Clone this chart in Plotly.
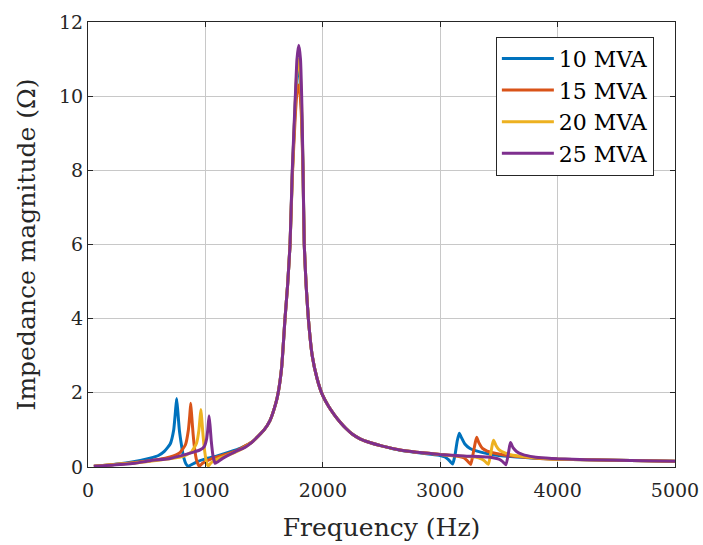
import plotly.graph_objects as go

# ---------------- data ----------------
names = ["10 MVA", "15 MVA", "20 MVA", "25 MVA"]
colors = ["#0072BD", "#D95319", "#EDB120", "#7E2F8E"]

f_10 = [50, 200, 350, 528, 600, 650, 700, 730, 745, 755, 765, 778, 798, 812, 835, 855,
        880, 926, 1000, 1100, 1200, 1300, 1400, 1500, 1550, 1600, 1620, 1650, 1678, 1700,
        1721, 1740, 1766, 1780, 1792, 1805, 1820, 1832, 1842, 1858, 1877, 1910, 1950, 1996,
        2050, 2100, 2150, 2200, 2250, 2317, 2400, 2500, 2658, 2800, 2900, 3000, 3040, 3070, 3090, 3106, 3125, 3145,
        3163, 3180, 3210, 3254, 3300, 3400, 3500, 3600, 3700, 3850, 4000, 4500, 5000]
z_10 = [0.02, 0.06, 0.12, 0.24, 0.31, 0.42, 0.62, 1.00, 1.50, 1.85, 1.50, 1.00, 0.55, 0.30, 0.08, 0.02,
        0.06, 0.14, 0.22, 0.30, 0.40, 0.51, 0.68, 1.00, 1.25, 1.72, 2.00, 2.70, 4.00, 4.90,
        6.00, 7.90, 9.80, 10.60, 10.90, 10.50, 9.50, 7.90, 6.00, 4.90, 4.00, 3.00, 2.40, 1.95,
        1.63, 1.40, 1.20, 1.03, 0.89, 0.76, 0.66, 0.57, 0.45, 0.39, 0.35, 0.31, 0.27, 0.20, 0.13, 0.08, 0.30, 0.70,
        0.91, 0.80, 0.62, 0.50, 0.44, 0.36, 0.31, 0.28, 0.26, 0.23, 0.21, 0.18, 0.155]

f_15 = [50, 200, 400, 600, 700, 780, 830, 855, 867, 875, 884, 895, 910, 925, 948, 975,
        1050, 1150, 1250, 1300, 1400, 1500, 1550, 1600, 1620, 1650, 1678, 1700,
        1721, 1740, 1766, 1780, 1792, 1805, 1820, 1832, 1842, 1858, 1877, 1910, 1950, 1996,
        2050, 2100, 2150, 2200, 2250, 2317, 2400, 2500, 2658, 2800, 3000, 3150, 3200, 3230, 3260, 3280, 3300, 3311,
        3330, 3360, 3400, 3500, 3600, 3700, 3850, 4000, 4500, 5000]
z_15 = [0.02, 0.06, 0.12, 0.20, 0.27, 0.38, 0.60, 1.00, 1.40, 1.72, 1.35, 0.90, 0.45, 0.18, 0.02, 0.10,
        0.22, 0.32, 0.42, 0.50, 0.68, 1.00, 1.25, 1.72, 2.00, 2.70, 4.00, 4.90,
        6.00, 7.80, 9.50, 10.10, 10.30, 10.10, 9.30, 7.80, 6.00, 4.90, 4.00, 3.00, 2.40, 1.95,
        1.63, 1.40, 1.20, 1.03, 0.89, 0.76, 0.66, 0.57, 0.46, 0.40, 0.34, 0.29, 0.25, 0.17, 0.07, 0.35, 0.68, 0.80,
        0.65, 0.50, 0.43, 0.35, 0.30, 0.27, 0.23, 0.21, 0.18, 0.155]

f_20 = [50, 200, 400, 600, 800, 880, 925, 945, 955, 962, 970, 980, 995, 1010, 1025, 1050,
        1120, 1200, 1300, 1400, 1500, 1550, 1600, 1620, 1650, 1678, 1700,
        1721, 1740, 1766, 1780, 1793, 1806, 1820, 1832, 1842, 1858, 1877, 1910, 1950, 1996,
        2050, 2100, 2150, 2200, 2250, 2317, 2400, 2500, 2658, 2800, 3000, 3150, 3300, 3350, 3380, 3410, 3430, 3445,
        3455, 3475, 3500, 3550, 3600, 3700, 3800, 4000, 4500, 5000]
z_20 = [0.02, 0.06, 0.11, 0.18, 0.28, 0.40, 0.65, 1.00, 1.35, 1.55, 1.25, 0.85, 0.40, 0.12, 0.03, 0.12,
        0.24, 0.33, 0.47, 0.68, 1.00, 1.25, 1.72, 2.00, 2.70, 4.00, 4.90,
        6.00, 7.90, 9.90, 10.70, 11.00, 10.70, 9.70, 8.00, 6.00, 4.90, 4.00, 3.00, 2.40, 1.95,
        1.63, 1.40, 1.20, 1.03, 0.89, 0.76, 0.66, 0.57, 0.46, 0.40, 0.34, 0.30, 0.27, 0.22, 0.16, 0.07, 0.35, 0.62,
        0.72, 0.58, 0.47, 0.38, 0.33, 0.28, 0.25, 0.21, 0.18, 0.155]

f_25 = [50, 200, 400, 528, 700, 812, 900, 954, 990, 1010, 1020, 1031, 1040, 1050, 1065, 1082,
        1100, 1150, 1252, 1337, 1400, 1500, 1550, 1600, 1620, 1650, 1678, 1700,
        1721, 1740, 1766, 1780, 1795, 1810, 1820, 1832, 1842, 1858, 1877, 1910, 1950, 1996,
        2050, 2100, 2150, 2200, 2250, 2317, 2400, 2500, 2658, 2800, 3000, 3200, 3400, 3450, 3500, 3530, 3560, 3580,
        3592, 3600, 3620, 3650, 3700, 3800, 3900, 4000, 4500, 5000]
z_25 = [0.02, 0.05, 0.10, 0.17, 0.23, 0.32, 0.40, 0.46, 0.55, 0.75, 1.00, 1.38, 1.10, 0.70, 0.30, 0.10,
        0.13, 0.24, 0.41, 0.53, 0.68, 1.00, 1.25, 1.72, 2.00, 2.70, 4.00, 4.90,
        6.00, 8.00, 10.00, 11.00, 11.37, 11.00, 10.00, 8.00, 6.00, 4.90, 4.00, 3.00, 2.40, 1.95,
        1.63, 1.40, 1.20, 1.03, 0.89, 0.76, 0.66, 0.57, 0.46, 0.40, 0.34, 0.30, 0.27, 0.25, 0.21, 0.15, 0.06, 0.35,
        0.58, 0.66, 0.52, 0.42, 0.34, 0.27, 0.24, 0.22, 0.18, 0.155]

x_ticks = [0, 1000, 2000, 3000, 4000, 5000]
y_ticks = [0, 2, 4, 6, 8, 10, 12]

series = [(f_10, z_10), (f_15, z_15), (f_20, z_20), (f_25, z_25)]

FONT = "'DejaVu Serif', 'Liberation Serif', serif"
AX = "#262626"
GRID = "#c8c8c8"

fig = go.Figure()
for (fx, zy), name, col in zip(series, names, colors):
    fig.add_trace(go.Scatter(x=fx, y=zy, mode="lines", name=name,
                             line=dict(color=col, width=3, shape="spline", smoothing=0.4)))

axis_common = dict(showline=True, linecolor=AX, linewidth=1, mirror="ticks",
                   ticks="inside", ticklen=5, tickcolor=AX,
                   showgrid=True, gridcolor=GRID, gridwidth=1, zeroline=False,
                   tickfont=dict(family=FONT, size=19, color=AX),
                   title_font=dict(family=FONT, size=25, color=AX))

fig.update_xaxes(range=[0, 5000], tickvals=x_ticks, ticktext=[str(v) for v in x_ticks],
                 ticklabelstandoff=6, automargin=False,
                 title_text="Frequency (Hz)", title_standoff=18, **axis_common)
fig.update_yaxes(range=[0, 12], tickvals=y_ticks, ticktext=[str(v) for v in y_ticks],
                 automargin=False,
                 title_text="Impedance magnitude (Ω)", title_standoff=16, **axis_common)

fig.update_layout(
    width=703, height=545,
    margin=dict(l=88, r=28, t=22, b=78, autoexpand=False),
    paper_bgcolor="white", plot_bgcolor="white",
    showlegend=True,
    legend=dict(x=0.964, y=0.967, xanchor="right", yanchor="top",
                bgcolor="white", bordercolor=AX, borderwidth=1,
                font=dict(family=FONT, size=22, color="black"),
                itemwidth=52, tracegroupgap=0),
)

fig.write_html("out.html")
